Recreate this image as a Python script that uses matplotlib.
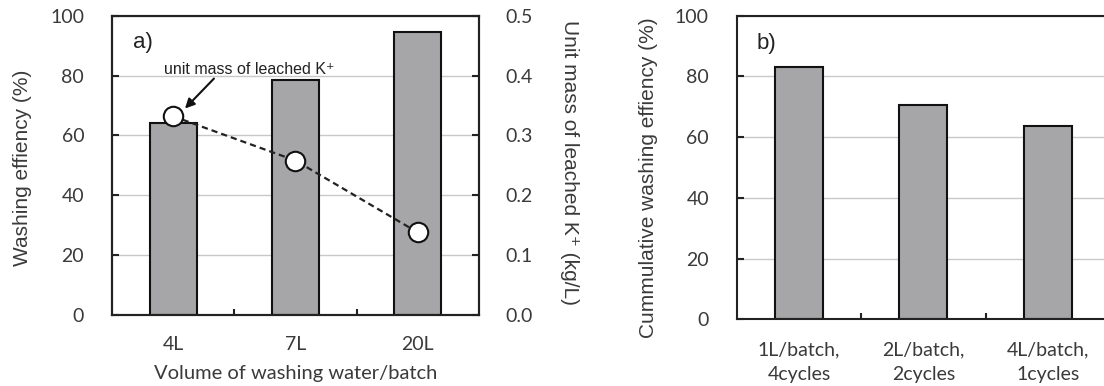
import matplotlib
matplotlib.use("Agg")
import matplotlib.pyplot as plt
import numpy as np

# panel a) data
volumes = ["4L", "7L", "20L"]
wash_eff = [64.0, 78.4, 94.6]
unit_mass = [0.332, 0.258, 0.138]

# panel b) data
schemes = ["1L/batch,\n4cycles", "2L/batch,\n2cycles", "4L/batch,\n1cycles"]
cum_eff = [83.2, 70.6, 63.8]

BAR_COLOR = "#a6a6a8"
GRID_COLOR = "#c8c8c8"
TICK_FONT = "Lato"
LABEL_FONT = ["Liberation Sans", "DejaVu Sans"]
TXT = "#3a3a3a"
INK = "#222222"

fig = plt.figure(figsize=(11.04, 3.86), dpi=100)


def style_bar_axes(ax, labels, xpad, spacing):
    x = np.arange(len(labels))
    ax.set_xlim(-0.5, len(labels) - 0.5)
    ax.set_ylim(0, 100)
    ax.set_yticks([0, 20, 40, 60, 80, 100])
    ax.yaxis.grid(True, color=GRID_COLOR, linewidth=1.0)
    ax.set_axisbelow(True)
    ax.set_xticks(x)
    ax.set_xticklabels(labels, fontfamily=TICK_FONT, fontsize=14, color=TXT,
                       linespacing=spacing)
    ax.set_xticks(np.arange(len(labels) - 1) + 0.5, minor=True)
    ax.tick_params(axis="x", which="major", length=0, pad=xpad)
    ax.tick_params(axis="x", which="minor", direction="in", length=4.5, width=1.5,
                   color=INK)
    ax.tick_params(axis="y", direction="in", length=5, width=1.5, pad=20,
                   labelsize=14, labelcolor=TXT, color=INK)
    for lab in ax.get_yticklabels():
        lab.set_fontfamily(TICK_FONT)
    for s in ax.spines.values():
        s.set_linewidth(1.5)
        s.set_color(INK)
    return x


# ---- panel a)
ax1 = fig.add_axes([0.1014, 0.1839, 0.3324, 0.7754])
x1 = style_bar_axes(ax1, volumes, xpad=15, spacing=1.3)
ax1.bar(x1, wash_eff, width=0.385, color=BAR_COLOR, edgecolor="#111111",
        linewidth=1.5, zorder=2)
ax1.set_ylabel("Washing effiency (%)", fontfamily=LABEL_FONT, fontsize=15,
               color=TXT, va="center", ha="center")
ax1.yaxis.set_label_coords(-0.245, 0.493)
ax1.set_xlabel("Volume of washing water/batch", fontfamily=TICK_FONT,
               fontsize=14.5, color=TXT, va="center")
ax1.xaxis.set_label_coords(0.5, -0.194)
ax1.text(0.057, 0.91, "a)", transform=ax1.transAxes, fontfamily=LABEL_FONT,
         fontsize=16, color=INK, va="center", ha="left")

ax1r = ax1.twinx()
ax1r.set_ylim(0, 0.5)
ax1r.set_yticks([0.0, 0.1, 0.2, 0.3, 0.4, 0.5])
ax1r.set_yticklabels([f"{v:.1f}" for v in ax1r.get_yticks()],
                     fontfamily=TICK_FONT, fontsize=14, color=TXT)
ax1r.tick_params(axis="y", direction="in", length=5, width=1.5, pad=19, color=INK)
ax1r.plot(x1, unit_mass, linestyle=(0, (2.8, 1.8)), color=INK, linewidth=1.6,
          marker="o", markersize=14, markerfacecolor="white",
          markeredgecolor="#111111", markeredgewidth=1.5, zorder=3)
ax1r.set_ylabel("Unit mass of leached K⁺ (kg/L)", fontfamily=LABEL_FONT,
                fontsize=15, color=TXT, rotation=-90, va="center", ha="center")
ax1r.yaxis.set_label_coords(1.248, 0.51)
for s in ax1r.spines.values():
    s.set_linewidth(1.5)
    s.set_color(INK)
ax1r.text(-0.075, 0.4026, "unit mass of leached K⁺", fontfamily=LABEL_FONT,
          fontsize=11.5, color=INK, ha="left", va="baseline")
ax1r.annotate("", xy=(0.097, 0.345), xytext=(0.334, 0.395),
              arrowprops=dict(arrowstyle="-|>", color="#111111", lw=1.5,
                              mutation_scale=14, shrinkA=0, shrinkB=0))

# ---- panel b)
ax2 = fig.add_axes([0.6673, 0.1728, 0.3381, 0.7865])
x2 = style_bar_axes(ax2, schemes, xpad=16, spacing=1.5)
ax2.bar(x2, cum_eff, width=0.385, color=BAR_COLOR, edgecolor="#111111",
        linewidth=1.5, zorder=2)
ax2.set_ylabel("Cummulative washing effiency (%)", fontfamily=LABEL_FONT,
               fontsize=15, color=TXT, va="center", ha="center")
ax2.yaxis.set_label_coords(-0.2375, 0.466)
ax2.text(0.052, 0.909, "b)", transform=ax2.transAxes, fontfamily=LABEL_FONT,
         fontsize=16, color=INK, va="center", ha="left")

fig.savefig("out.png", dpi=100)
